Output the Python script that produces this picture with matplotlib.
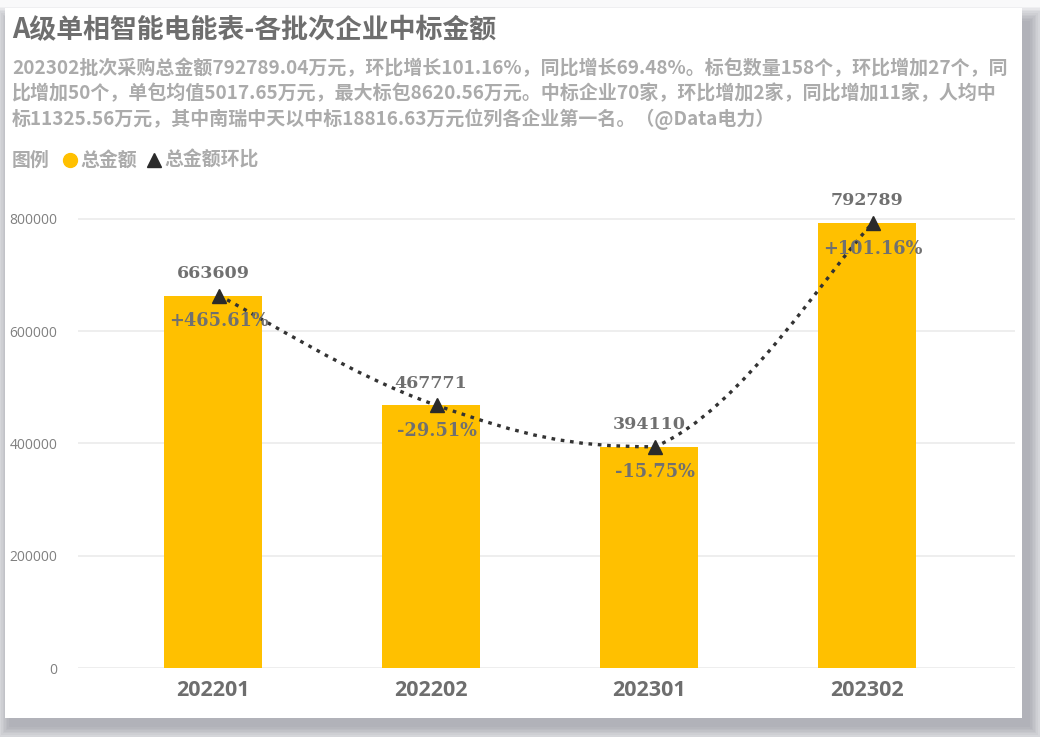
import numpy as np
import matplotlib
matplotlib.use("Agg")
import matplotlib.pyplot as plt
from matplotlib.path import Path
from matplotlib.patches import PathPatch, Rectangle

plt.rcParams['font.family'] = ['Noto Sans CJK SC', 'DejaVu Sans']

# data
batches = ['202201', '202202', '202301', '202302']
totals = [663609, 467771, 394110, 792789]
ratios = ['+465.61%', '-29.51%', '-15.75%', '+101.16%']
yticks = [0, 200000, 400000, 600000, 800000]

title = 'A级单相智能电能表-各批次企业中标金额'
subtitle = ['202302批次采购总金额792789.04万元，环比增长101.16%，同比增长69.48%。标包数量158个，环比增加27个，同',
            '比增加50个，单包均值5017.65万元，最大标包8620.56万元。中标企业70家，环比增加2家，同比增加11家，人均中',
            '标11325.56万元，其中南瑞中天以中标18816.63万元位列各企业第一名。（@Data电力）']

W, H = 1040, 737
fig = plt.figure(figsize=(W / 100, H / 100), dpi=100)
fig.patch.set_facecolor('#f9f9fa')


def fx(px):
    return px / W


def fy(py):
    return 1 - py / H


# card shadow (soft, offset to the lower right)
for k in range(10):
    grow = k * 1.6
    fig.patches.append(Rectangle((fx(9 - grow), fy(727 + grow)),
                                 fx(1021 + 2 * grow), (718 + 2 * grow - 8 - 4) / H,
                                 transform=fig.transFigure, facecolor='#7f828b',
                                 edgecolor='none', alpha=0.08, zorder=0))
# card
fig.patches.append(Rectangle((fx(5), fy(718)), fx(1017), 710 / H,
                             transform=fig.transFigure, facecolor='white',
                             edgecolor='none', zorder=1))

# titles
fig.text(fx(12), fy(30), title, fontsize=19.4, fontweight='bold', color='#6e6e6e',
         va='center', ha='left', zorder=5)
for i, line in enumerate(subtitle):
    fig.text(fx(12), fy(68 + i * 25.5), line, fontsize=13.65, fontweight='bold',
             color='#ababab', va='center', ha='left', zorder=5)

# legend
fig.text(fx(12), fy(160), '图例', fontsize=13.6, fontweight='bold', color='#ababab',
         va='center', ha='left', zorder=5)
fig.lines.append(plt.Line2D([fx(70)], [fy(160)], marker='o', markersize=10,
                            color='#FFC000', transform=fig.transFigure, zorder=5))
fig.text(fx(80), fy(160), '总金额', fontsize=13.6, fontweight='bold', color='#ababab',
         va='center', ha='left', zorder=5)
fig.lines.append(plt.Line2D([fx(154)], [fy(160)], marker='^', markersize=10,
                            color='#2b2b2b', transform=fig.transFigure, zorder=5))
fig.text(fx(164), fy(160), '总金额环比', fontsize=13.6, fontweight='bold', color='#ababab',
         va='center', ha='left', zorder=5)

# plot area
ax = fig.add_axes([fx(78), 69 / H, fx(1015 - 78), 471.5 / H])
ax.set_zorder(3)
ax.patch.set_alpha(0)
x = np.arange(len(batches))
ax.bar(x, totals, width=0.45, color='#FFC000', zorder=2)

ax.set_xlim(-0.619, 3.679)
ax.set_ylim(0, 840000)
ax.set_yticks(yticks)
ax.set_yticklabels([str(v) for v in yticks], fontsize=10, color='#808080',
                   family=['Open Sans', 'DejaVu Sans'])
ax.set_xticks(x)
ax.set_xticklabels(batches, fontsize=15.5, fontweight='bold', color='#6e6e6e',
                   family=['Open Sans', 'DejaVu Sans'])
ax.tick_params(axis='both', length=0)
ax.tick_params(axis='y', pad=15)
ax.tick_params(axis='x', pad=9)
ax.grid(axis='y', color='#ebebeb', linewidth=1.2, zorder=0)
for s in ax.spines.values():
    s.set_visible(False)

# smoothed dotted line through the bar tops; control points kept inside each
# segment's y-range so the curve does not overshoot
lx = x + 0.027
pts = np.column_stack([lx, totals]).astype(float)
t = 0.2
verts = [tuple(pts[0])]
codes = [Path.MOVETO]
for i in range(len(pts) - 1):
    p0 = pts[max(i - 1, 0)]
    p1 = pts[i]
    p2 = pts[i + 1]
    p3 = pts[min(i + 2, len(pts) - 1)]
    c1 = p1 + (p2 - p0) * t
    c2 = p2 - (p3 - p1) * t
    lo, hi = min(p1[1], p2[1]), max(p1[1], p2[1])
    c1[1] = np.clip(c1[1], lo, hi)
    c2[1] = np.clip(c2[1], lo, hi)
    verts += [tuple(c1), tuple(c2), tuple(p2)]
    codes += [Path.CURVE4] * 3
ax.add_patch(PathPatch(Path(verts, codes), fill=False, edgecolor='#333333',
                       linewidth=2.4, linestyle=(0, (1.1, 1.7)), zorder=4))
ax.plot(lx, totals, linestyle='none', marker='^', markersize=10, color='#2b2b2b', zorder=5)

for xi, lxi, v, r in zip(x, lx, totals, ratios):
    ax.annotate(str(v), (xi, v), xytext=(0, 10), textcoords='offset points',
                ha='center', va='bottom', fontsize=12.5, fontweight='bold', color='#707070',
                family='DejaVu Serif', zorder=6)
    ax.annotate(r, (lxi, v), xytext=(0, -12), textcoords='offset points',
                ha='center', va='top', fontsize=12.8, fontweight='bold', color='#707070',
                family='DejaVu Serif', zorder=6)

fig.savefig('out.png', dpi=100, facecolor=fig.get_facecolor())
